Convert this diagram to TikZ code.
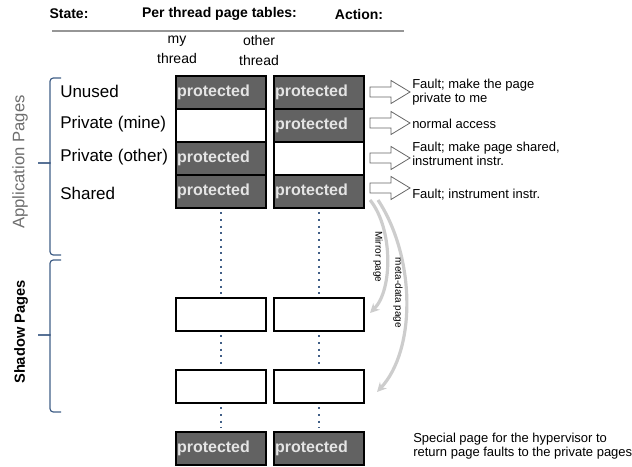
\documentclass[tikz,border=0pt]{standalone}
\usepackage{fontspec}
\setmainfont{Liberation Sans}
\usetikzlibrary{arrows.meta}
\definecolor{boxfill}{RGB}{98,98,98}
\definecolor{prottext}{RGB}{228,228,228}
\definecolor{bracecol}{RGB}{65,95,135}
\definecolor{dotcol}{RGB}{65,95,135}
\definecolor{curvecol}{RGB}{205,205,205}
\definecolor{rulecol}{RGB}{150,150,150}
\definecolor{apptext}{RGB}{110,110,110}
\begin{document}
\begin{tikzpicture}[x=0.75pt,y=-0.75pt,
  pbox/.style={draw=black, line width=1.5pt, fill=white, minimum width=67.5pt, minimum height=24.75pt, inner sep=0pt, anchor=north west},
  prot/.style={pbox, fill=boxfill, text=prottext, font=\fontsize{12}{14}\selectfont\bfseries, text width=66pt, align=left, inner xsep=0.75pt},
  lab/.style={anchor=west, inner sep=0pt, font=\fontsize{12.75}{15}\selectfont},
  head/.style={inner sep=0pt, font=\fontsize{10.5}{12}\selectfont\bfseries},
  colhead/.style={inner sep=0pt, align=center, font=\fontsize{10.5}{15}\selectfont},
  act/.style={anchor=west, inner sep=0pt, align=left, font=\fontsize{9.75}{10.5}\selectfont},
  dotline/.style={draw=dotcol, line width=2.2pt, dash pattern=on 1.5pt off 3.5pt, shorten <=2.5pt, shorten >=2.5pt},
  bracel/.style={draw=bracecol, line width=0.9pt, rounded corners=2.5pt},
  arrowline/.style={draw=black!60, line width=0.6pt, fill=white},
  curvearrow/.style={draw=curvecol, line width=2.4pt, -{Stealth[length=7pt,width=7pt]}},
  small/.style={inner sep=0pt, font=\fontsize{7.5}{9}\selectfont},
  blockarrow/.pic={\draw[arrowline] (0,-5) -- (21,-5) -- (21,-11.5) -- (40,0) -- (21,11.5) -- (21,5) -- (0,5) -- cycle;}
]
\useasboundingbox (0,0) rectangle (632,467);

% header
\node[head] (hstate) at (69,14) {State:};
\node[head] (hper) at (219.5,14) {Per thread page tables:};
\node[head] (hact) at (359,14) {Action:};
\coordinate (rl) at (52,31);
\coordinate (rr) at (404,31);
\draw[draw=rulecol, line width=2.2pt] (rl) -- (rr);

\node[colhead] (cmy) at (177,50) {my\\thread};
\node[colhead] (cother) at (259,50) {other\\thread};

% application page rows
\node[prot] (a1) at (175,75) {protected};
\node[prot] (b1) at (273,75) {protected};
\node[pbox] (a2) at (175,108) {};
\node[prot] (b2) at (273,108) {protected};
\node[prot] (a3) at (175,141) {protected};
\node[pbox] (b3) at (273,141) {};
\node[prot] (a4) at (175,174) {protected};
\node[prot] (b4) at (273,174) {protected};

% shadow pages
\node[pbox] (a5) at (175,297) {};
\node[pbox] (b5) at (273,297) {};
\node[pbox] (a6) at (175,369) {};
\node[pbox] (b6) at (273,369) {};
\node[prot] (a7) at (175,431) {protected};
\node[prot] (b7) at (273,431) {protected};

\draw[dotline] (a4.south) -- (a5.north);
\draw[dotline] (b4.south) -- (b5.north);
\draw[dotline] (a5.south) -- (a6.north);
\draw[dotline] (b5.south) -- (b6.north);
\draw[dotline] (a6.south) -- (a7.north);
\draw[dotline] (b6.south) -- (b7.north);

% state labels
\node[lab] (lunused) at (60,91.5) {Unused};
\node[lab] (lmine) at (60,124) {Private (mine)};
\node[lab] (lother) at (60,157) {Private (other)};
\node[lab] (lshared) at (60,193) {Shared};

% braces
\draw[bracel] (61,78) -- (50,78) -- (50,160) .. controls (50,163) .. (38,163);
\draw[bracel] (38,163) .. controls (50,163) .. (50,166) -- (50,255) -- (61,255);
\draw[bracel] (61,260) -- (50,260) -- (50,332) .. controls (50,335) .. (38,335);
\draw[bracel] (38,335) .. controls (50,335) .. (50,338) -- (50,412) -- (61,412);
\node[inner sep=0pt, rotate=90, text=apptext, font=\fontsize{12.5}{14}\selectfont] (tapp) at (20,162) {Application Pages};
\node[inner sep=0pt, rotate=90, font=\fontsize{11}{13}\selectfont\bfseries] (tshadow) at (21,332) {Shadow Pages};

% block arrows
\pic at (370,92) {blockarrow};
\pic at (370,123) {blockarrow};
\pic at (370,158) {blockarrow};
\pic at (370,188) {blockarrow};

% actions
\node[act] (t1) at (412,92.5) {Fault; make the page\\private to me};
\node[act] (t2) at (412,124) {normal access};
\node[act] (t3) at (412,154) {Fault; make page shared,\\instrument instr.};
\node[act] (t4) at (412,195) {Fault; instrument instr.};
\node[act] (t5) at (413,446.5) {Special page for the hypervisor to\\return page faults to the private pages};

% curved arrows
\coordinate (m0) at (370,200);
\coordinate (m1) at (370,313);
\coordinate (d0) at (378,200);
\coordinate (d1) at (377,392);
\draw[curvearrow] (m0) .. controls (393,228) and (393,290) .. (m1);
\draw[curvearrow] (d0) .. controls (416,258) and (416,350) .. (d1);
\node[small, rotate=-90] (tmirror) at (378,257) {Mirror page};
\node[small, rotate=-90] (tmeta) at (398,293) {meta-data page};
\end{tikzpicture}
\end{document}
